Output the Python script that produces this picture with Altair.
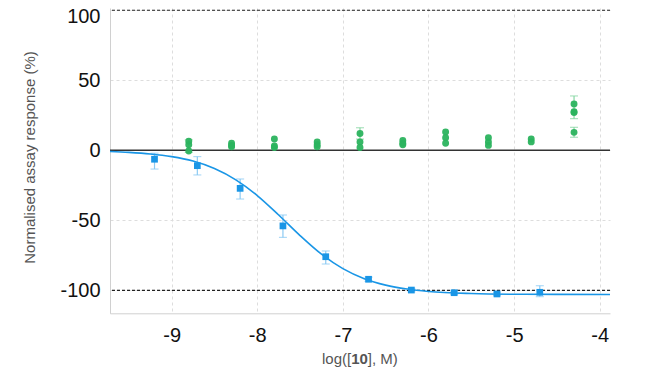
import altair as alt
import pandas as pd

# Blue compound (fitted), log10 concentration in M
blue_x = [-9.2, -8.7, -8.2, -7.7, -7.2, -6.7, -6.2, -5.7, -5.2, -4.7]
blue_y = [-6.4, -11.0, -27.2, -54.0, -76.0, -92.1, -99.8, -101.7, -102.6, -101.4]
blue_lo = [-13.4, -17.6, -34.8, -62.2, -81.2, -93.6, -101.0, -103.0, -103.8, -104.5]
blue_hi = [-2.1, -4.5, -20.5, -46.2, -71.9, -90.6, -98.6, -100.4, -101.4, -96.7]

# Fitted curve
curve_x = [-9.72, -9.5, -9.25, -9.0, -8.75, -8.5, -8.25, -8.0, -7.75, -7.5,
           -7.25, -7.0, -6.75, -6.5, -6.25, -6.0, -5.5, -5.0, -4.5, -3.88]
curve_y = [-0.9, -1.5, -2.6, -4.5, -7.7, -13.0, -21.1, -32.3, -46.2, -60.9,
           -74.2, -84.5, -91.7, -96.3, -99.1, -100.8, -102.3, -102.8, -102.9, -103.0]

# Green compound (inactive), individual replicates
green_x = [-8.8, -8.8, -8.8, -8.3, -8.3, -8.3, -7.8, -7.8, -7.8, -7.3, -7.3, -7.3,
           -6.8, -6.8, -6.8, -6.3, -6.3, -6.3, -5.8, -5.8, -5.8, -5.3, -5.3, -5.3,
           -4.8, -4.8, -4.3, -4.3, -4.3, -4.3]
green_y = [6.5, 4.0, -0.5, 5.0, 3.5, 2.5, 8.0, 3.0, 2.0, 6.0, 4.0, 2.5,
           12.0, 6.0, 2.0, 7.0, 5.0, 4.0, 13.0, 9.0, 5.0, 9.0, 6.0, 3.5,
           8.0, 6.0, 33.0, 27.6, 26.9, 12.8]
green_err_x = [-8.8, -6.8, -4.3, -4.3]
green_err_lo = [-1.5, 8.0, 22.6, 9.3]
green_err_hi = [7.5, 16.1, 38.8, 16.4]

ref_y = [100, -100]
x_ticks = [-9, -8, -7, -6, -5, -4]
y_ticks = [-100, -50, 0, 50, 100]

BLUE = "#1a96e6"
BLUE_ERR = "#8ccaf3"
GREEN = "#2bb35e"
GREEN_ERR = "#86d6a2"
FONT = "Liberation Sans"

blue_df = pd.DataFrame({"x": blue_x, "y": blue_y, "lo": blue_lo, "hi": blue_hi})
curve_df = pd.DataFrame({"x": curve_x, "y": curve_y})
green_df = pd.DataFrame({"x": green_x, "y": green_y})
gerr_df = pd.DataFrame({"x": green_err_x, "lo": green_err_lo, "hi": green_err_hi})
ref_df = pd.DataFrame({"y": ref_y})
zero_df = pd.DataFrame({"y": [0]})

xscale = alt.Scale(domain=[-9.72, -3.88], nice=False, zero=False)
yscale = alt.Scale(domain=[-116.4, 101.6], nice=False, zero=False)

xax = alt.Axis(values=x_ticks, title=None, grid=True, gridDash=[3, 3], gridColor="#dddddd",
               ticks=False, labelFontSize=20, labelFont=FONT, labelColor="#111111",
               labelPadding=12, domainColor="#d0d0d0", labelExpr="'' + datum.value")
yax = alt.Axis(values=y_ticks, title="Normalised assay response (%)", grid=True, gridDash=[3, 3],
               gridColor="#dddddd", ticks=False, labelFontSize=20, labelFont=FONT,
               labelColor="#111111", labelPadding=10, domainColor="#d0d0d0",
               labelExpr="'' + datum.value",
               labelOffset={"condition": {"test": "datum.value === 100", "value": 6}, "value": 0},
               titleFont=FONT, titleFontSize=15, titleFontWeight="normal", titleColor="#555555",
               titleX=-81, titleY=149, titleAngle=-90, titleAlign="center", titleBaseline="middle")

X = alt.X("x:Q", scale=xscale, axis=xax)
Y = alt.Y("y:Q", scale=yscale, axis=yax)

zero_line = alt.Chart(zero_df).mark_rule(color="#333333", strokeWidth=1.6).encode(y="y:Q")
ref_lines = alt.Chart(ref_df).mark_rule(color="#222222", strokeWidth=1.2, strokeDash=[3, 2]).encode(y="y:Q")

berr = alt.Chart(blue_df).mark_rule(color=BLUE_ERR, strokeWidth=1.2).encode(x="x:Q", y="lo:Q", y2="hi:Q")
bcap_lo = alt.Chart(blue_df).mark_tick(color=BLUE_ERR, orient="horizontal", size=8, thickness=1.2).encode(x="x:Q", y="lo:Q")
bcap_hi = alt.Chart(blue_df).mark_tick(color=BLUE_ERR, orient="horizontal", size=8, thickness=1.2).encode(x="x:Q", y="hi:Q")
curve = alt.Chart(curve_df).mark_line(color=BLUE, strokeWidth=1.6, interpolate="monotone").encode(x="x:Q", y="y:Q")
bpts = alt.Chart(blue_df).mark_square(color=BLUE, opacity=1, size=45).encode(x="x:Q", y="y:Q")

gerr = alt.Chart(gerr_df).mark_rule(color=GREEN_ERR, strokeWidth=1.2).encode(x="x:Q", y="lo:Q", y2="hi:Q")
gcap_lo = alt.Chart(gerr_df).mark_tick(color=GREEN_ERR, orient="horizontal", size=8, thickness=1.2).encode(x="x:Q", y="lo:Q")
gcap_hi = alt.Chart(gerr_df).mark_tick(color=GREEN_ERR, orient="horizontal", size=8, thickness=1.2).encode(x="x:Q", y="hi:Q")
gpts = alt.Chart(green_df).mark_circle(color=GREEN, opacity=0.95, size=48).encode(x="x:Q", y="y:Q")

title_df = pd.DataFrame({"t": [0]})
TY = 351
t1 = alt.Chart(title_df).mark_text(text="log([", font=FONT, fontSize=15, color="#555555",
                                   align="right", baseline="middle").encode(x=alt.value(241.2), y=alt.value(TY))
t2 = alt.Chart(title_df).mark_text(text="10", font=FONT, fontSize=15, fontWeight="bold", color="#555555",
                                   align="center", baseline="middle").encode(x=alt.value(249.5), y=alt.value(TY))
t3 = alt.Chart(title_df).mark_text(text="], M)", font=FONT, fontSize=15, color="#555555",
                                   align="left", baseline="middle").encode(x=alt.value(257.8), y=alt.value(TY))

base = alt.Chart(zero_df).mark_point(opacity=0).encode(x=X, y=Y)

chart = alt.layer(
    base, zero_line, ref_lines, berr, bcap_lo, bcap_hi, curve, bpts,
    gerr, gcap_lo, gcap_hi, gpts, t1, t2, t3
).properties(
    width=500, height=305.3,
    autosize=alt.AutoSizeParams(type="none"),
    padding={"left": 102, "top": 0, "right": 34, "bottom": 54.7},
    background="white",
).configure_view(stroke=None)

chart.save("out.html", embed_options={"renderer": "svg", "actions": False})
